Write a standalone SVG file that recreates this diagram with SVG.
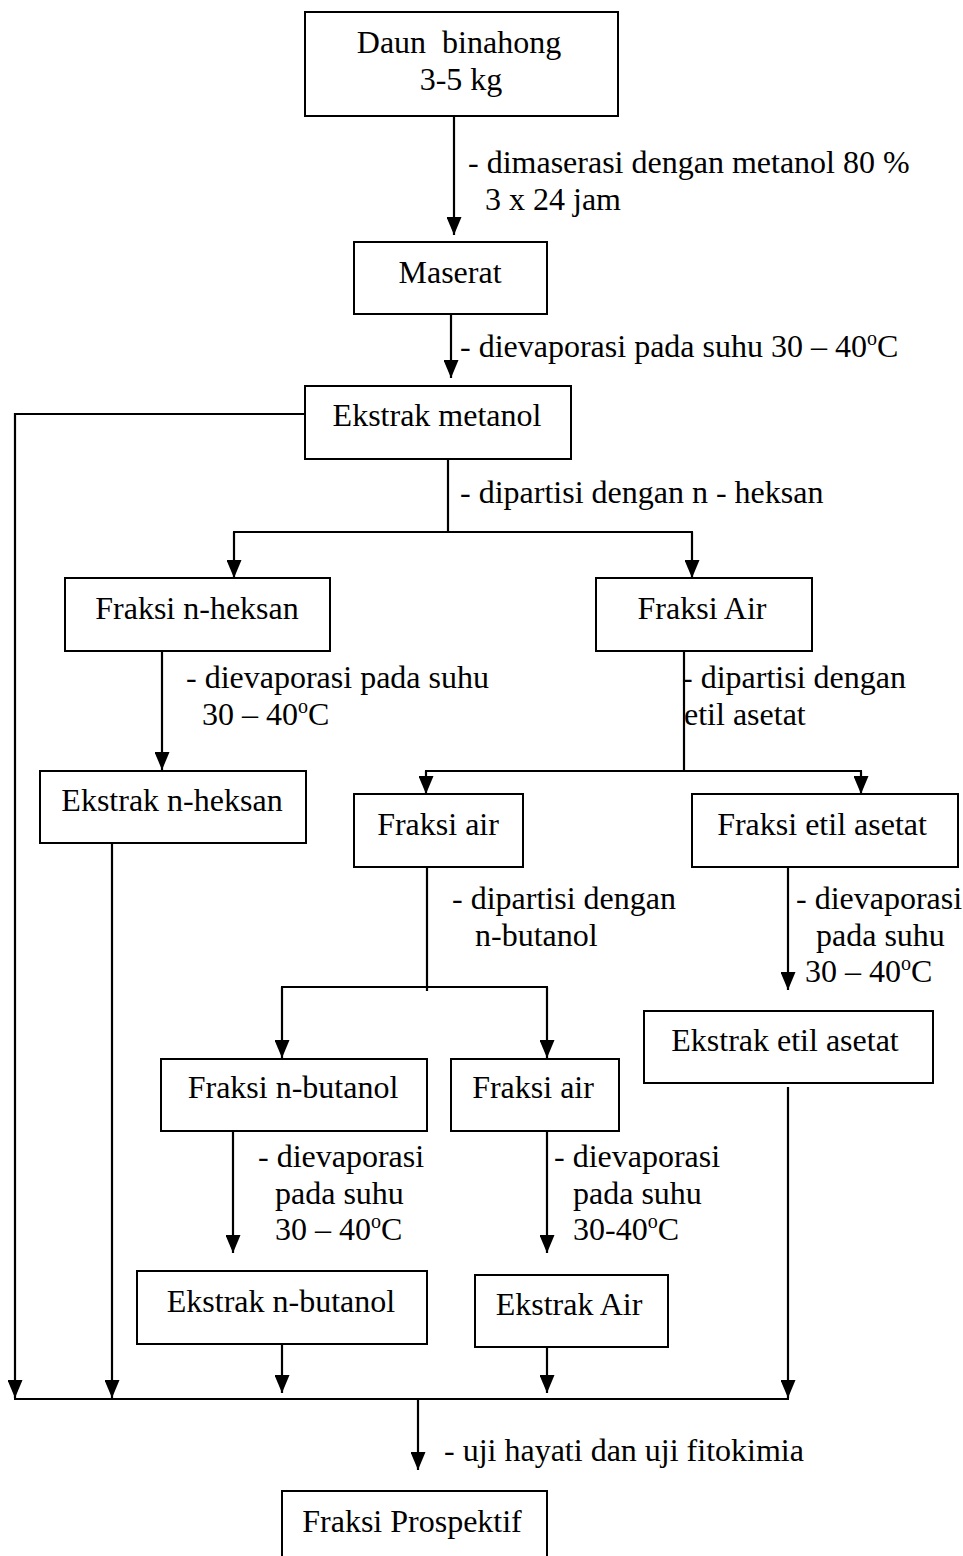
<svg xmlns="http://www.w3.org/2000/svg" width="963" height="1556" viewBox="0 0 963 1556">
<style>
rect.b{fill:#fff;stroke:#000;stroke-width:2}
text{font-family:"Liberation Serif","Times New Roman",serif;font-size:32px;fill:#000}
text.c{text-anchor:middle}
.ln{fill:none;stroke:#000;stroke-width:2.2}
.ar{fill:none;stroke:#000;stroke-width:2.2;marker-end:url(#ah)}
</style>
<defs>
<marker id="ah" viewBox="0 0 18 15" refX="18" refY="7.5" markerWidth="18" markerHeight="15" orient="auto" markerUnits="userSpaceOnUse"><path d="M0,0 L18,7.5 L0,15 z" fill="#000"/></marker>
</defs>
<rect width="963" height="1556" fill="#fff"/>
<g id="connectors">
<line class="ar" x1="454" y1="116" x2="454" y2="235"/>
<line class="ar" x1="451" y1="314" x2="451" y2="378"/>
<polyline class="ar" points="305,414 15,414 15,1398"/>
<line class="ln" x1="448" y1="459" x2="448" y2="532"/>
<line class="ln" x1="233" y1="532" x2="693" y2="532"/>
<line class="ar" x1="234" y1="532" x2="234" y2="578"/>
<line class="ar" x1="692" y1="532" x2="692" y2="578"/>
<line class="ar" x1="162" y1="651" x2="162" y2="770"/>
<line class="ln" x1="684" y1="651" x2="684" y2="771"/>
<line class="ln" x1="425" y1="771" x2="862" y2="771"/>
<line class="ar" x1="426" y1="771" x2="426" y2="794"/>
<line class="ar" x1="861" y1="771" x2="861" y2="794"/>
<line class="ar" x1="112" y1="843" x2="112" y2="1398"/>
<line class="ln" x1="427" y1="867" x2="427" y2="991"/>
<line class="ln" x1="281" y1="987" x2="548" y2="987"/>
<line class="ar" x1="282" y1="987" x2="282" y2="1058"/>
<line class="ar" x1="547" y1="987" x2="547" y2="1058"/>
<line class="ar" x1="788" y1="867" x2="788" y2="990"/>
<line class="ar" x1="788" y1="1087" x2="788" y2="1398"/>
<line class="ar" x1="233" y1="1131" x2="233" y2="1253"/>
<line class="ar" x1="547" y1="1131" x2="547" y2="1253"/>
<line class="ar" x1="282" y1="1344" x2="282" y2="1393"/>
<line class="ar" x1="547" y1="1347" x2="547" y2="1393"/>
<line class="ln" x1="14" y1="1399" x2="789" y2="1399"/>
<line class="ar" x1="418" y1="1399" x2="418" y2="1470"/>
</g>
<g id="labels">
<text x="468" y="173">- dimaserasi dengan metanol 80 %</text>
<text x="485" y="210">3 x 24 jam</text>
<text x="460" y="357">- dievaporasi pada suhu 30 – 40<tspan font-size="20" dy="-12">o</tspan><tspan dy="12">C</tspan></text>
<text x="460" y="503">- dipartisi dengan n - heksan</text>
<text x="186" y="688">- dievaporasi pada suhu</text>
<text x="202" y="725">30 – 40<tspan font-size="20" dy="-12">o</tspan><tspan dy="12">C</tspan></text>
<text x="682" y="688">- dipartisi dengan</text>
<text x="684" y="725">etil asetat</text>
<text x="452" y="909">- dipartisi dengan</text>
<text x="475" y="946">n-butanol</text>
<text x="796" y="909">- dievaporasi</text>
<text x="816" y="946">pada suhu</text>
<text x="805" y="982">30 – 40<tspan font-size="20" dy="-12">o</tspan><tspan dy="12">C</tspan></text>
<text x="258" y="1167">- dievaporasi</text>
<text x="275" y="1204">pada suhu</text>
<text x="275" y="1240">30 – 40<tspan font-size="20" dy="-12">o</tspan><tspan dy="12">C</tspan></text>
<text x="554" y="1167">- dievaporasi</text>
<text x="573" y="1204">pada suhu</text>
<text x="573" y="1240">30-40<tspan font-size="20" dy="-12">o</tspan><tspan dy="12">C</tspan></text>
<text x="444" y="1461">- uji hayati dan uji fitokimia</text>
</g>
<g id="n1"><rect class="b" x="305" y="12" width="313" height="104"/><text class="c" x="459" y="53" style="white-space:pre">Daun  binahong</text><text class="c" x="461" y="90">3-5 kg</text></g>
<g id="n2"><rect class="b" x="354" y="242" width="193" height="72"/><text class="c" x="450" y="283">Maserat</text></g>
<g id="n3"><rect class="b" x="305" y="386" width="266" height="73"/><text class="c" x="437" y="426">Ekstrak metanol</text></g>
<g id="n4"><rect class="b" x="65" y="578" width="265" height="73"/><text class="c" x="197" y="619">Fraksi n-heksan</text></g>
<g id="n5"><rect class="b" x="596" y="578" width="216" height="73"/><text class="c" x="702" y="619">Fraksi Air</text></g>
<g id="n6"><rect class="b" x="40" y="771" width="266" height="72"/><text class="c" x="172" y="811">Ekstrak n-heksan</text></g>
<g id="n7"><rect class="b" x="354" y="794" width="169" height="73"/><text class="c" x="438" y="835">Fraksi air</text></g>
<g id="n8"><rect class="b" x="692" y="794" width="266" height="73"/><text class="c" x="822" y="835">Fraksi etil asetat</text></g>
<g id="n9"><rect class="b" x="644" y="1011" width="289" height="72"/><text class="c" x="785" y="1051">Ekstrak etil asetat</text></g>
<g id="n10"><rect class="b" x="161" y="1059" width="266" height="72"/><text class="c" x="293" y="1098">Fraksi n-butanol</text></g>
<g id="n11"><rect class="b" x="451" y="1059" width="168" height="72"/><text class="c" x="533" y="1098">Fraksi air</text></g>
<g id="n12"><rect class="b" x="137" y="1271" width="290" height="73"/><text class="c" x="281" y="1312">Ekstrak n-butanol</text></g>
<g id="n13"><rect class="b" x="475" y="1275" width="193" height="72"/><text class="c" x="569" y="1315">Ekstrak Air</text></g>
<g id="n14"><rect class="b" x="282" y="1491" width="265" height="120"/><text class="c" x="412" y="1532">Fraksi Prospektif</text></g>
</svg>
